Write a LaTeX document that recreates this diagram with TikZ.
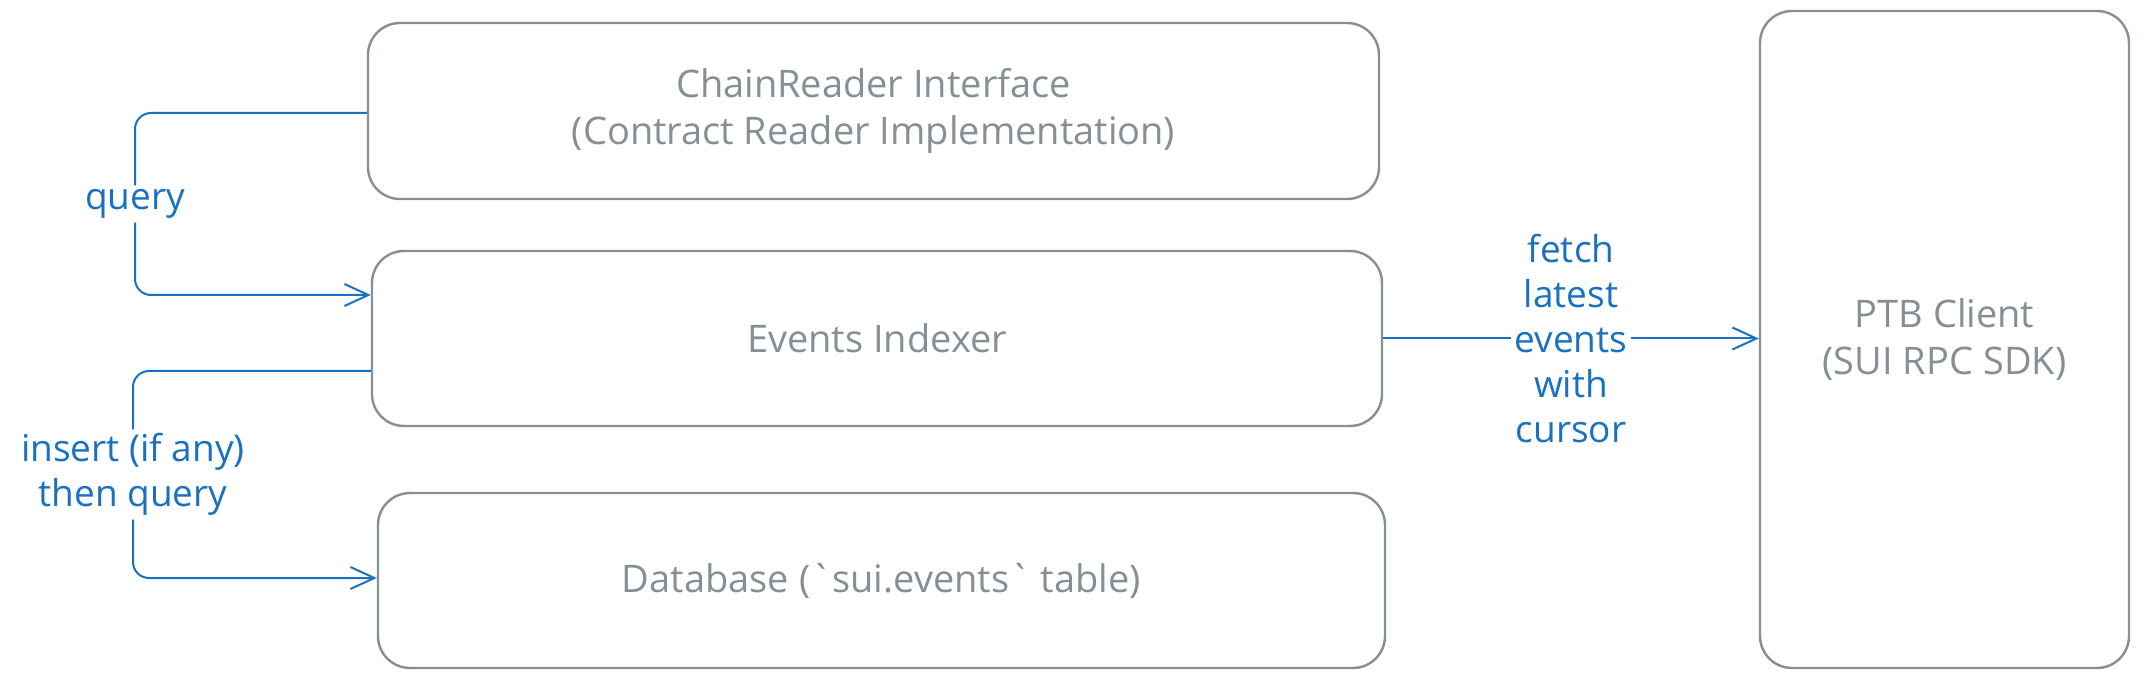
\documentclass[tikz,border=0pt]{standalone}
\usepackage{fontspec}
\setmainfont{Open Sans}[Ligatures=TeXOff]
\usetikzlibrary{arrows.meta,calc}
\definecolor{boxgray}{HTML}{868E96}
\definecolor{linkblue}{HTML}{1971C2}
\begin{document}
\begin{tikzpicture}[x=0.5pt,y=-0.5pt,
  box/.style={draw=boxgray, line width=1.2pt, rounded corners=16pt, align=center,
    text=boxgray, font=\fontsize{19}{23.5}\selectfont, inner sep=0pt},
  conn/.style={draw=linkblue, line width=1pt, rounded corners=8pt,
    -{Straight Barb[length=12pt,width=11pt]}},
  lbl/.style={fill=white, text=linkblue, align=center,
    font=\fontsize{18.5}{22.5}\selectfont, inner sep=2pt}]
\useasboundingbox (0,0) rectangle (2154,679);
\node[box, minimum width=505.5pt, minimum height=88pt] (cr) at (873.5,111)
  {ChainReader Interface\\(Contract Reader Implementation)};
\node[box, minimum width=505pt, minimum height=87.5pt] (ei) at (877,338.5)
  {Events Indexer};
\node[box, minimum width=503.5pt, minimum height=87.5pt] (db) at (881.5,580.5)
  {Database (`sui.events` table)};
\node[box, minimum width=184.5pt, minimum height=328.5pt] (ptb) at (1944.5,339.5)
  {PTB Client\\(SUI RPC SDK)};
\coordinate (q1) at (135,113);
\coordinate (q2) at (135,295);
\draw[conn] (cr.west |- q1) -- (q1) -- node[lbl]{query} (q2) -- (ei.west |- q2);
\coordinate (i1) at (133,371);
\coordinate (i2) at (133,578);
\draw[conn] (ei.west |- i1) -- (i1) -- node[lbl]{insert (if any)\\then query} (i2) -- (db.west |- i2);
\draw[conn, rounded corners=0pt] (ei.east) -- node[lbl]{fetch\\latest\\events\\with\\cursor} (ptb.west |- ei.east);
\end{tikzpicture}
\end{document}
